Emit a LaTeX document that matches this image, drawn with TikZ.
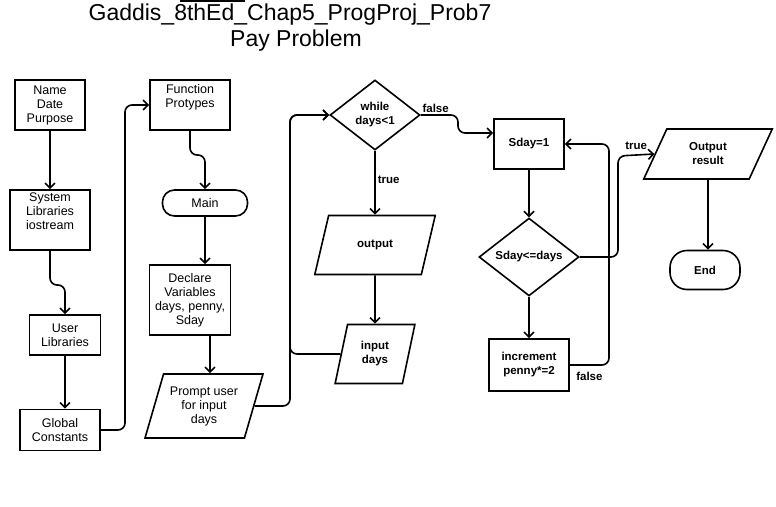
\documentclass[tikz,border=0pt]{standalone}
\usepackage{fontspec}
\setmainfont{Liberation Sans}
\usetikzlibrary{shapes.geometric,arrows.meta}

\tikzset{
  box/.style={draw, line width=1.6pt, rectangle, align=center, inner sep=2pt,
    font=\fontsize{12.5}{14}\selectfont},
  term/.style={draw, line width=1.6pt, rectangle, rounded corners=12pt, align=center},
  io/.style={draw, line width=1.6pt, trapezium, trapezium stretches=true, align=center,
    inner sep=1pt},
  decide/.style={draw, line width=1.6pt, diamond, align=center, inner sep=0pt},
  flow/.style={line width=1.6pt, -{Straight Barb[length=5pt,width=10pt,line width=1.6pt]},
    rounded corners=7pt},
  bold/.style={font=\bfseries\fontsize{11.5}{14}\selectfont},
  lbl/.style={font=\bfseries\fontsize{11.5}{13}\selectfont, inner sep=2pt}
}

\begin{document}
\begin{tikzpicture}[x=1pt, y=-1pt]
        \useasboundingbox (0,0) rectangle (776,506);
        % title
        \draw[line width=1.5pt] (180,1) -- (245,1);
        \node[font=\fontsize{23}{25}\selectfont] (title) at (290,15) {Gaddis\_8thEd\_Chap5\_ProgProj\_Prob7};
        \node[font=\fontsize{23}{25}\selectfont] (subtitle) at (296,41) {Pay Problem};

        % left column
        \node[box, minimum width=70pt, minimum height=50pt] (name) at (50,105) {Name\\Date\\Purpose};
        \node[box, minimum width=80pt, minimum height=60pt, text depth=17pt] (sys) at (50,220) {System\\Libraries\\iostream};
        \node[box, minimum width=71pt, minimum height=40pt] (user) at (65,335) {User\\Libraries};
        \node[box, minimum width=80pt, minimum height=41pt] (global) at (60,430) {Global\\Constants};

        % main column
        \node[box, minimum width=80pt, minimum height=50pt, text depth=18pt] (func) at (190,105) {Function\\Protypes};
        \node[term, box, minimum width=85pt, minimum height=26pt] (main) at (205,203) {Main};
        \node[box, minimum width=81pt, minimum height=70pt] (decl) at (190,300) {Declare\\Variables\\days, penny,\\Sday};
        \node[io, font=\fontsize{12.5}{14}\selectfont, trapezium left angle=68.7, trapezium right angle=111.3,
          minimum width=118pt, minimum height=64pt] (prompt) at (204,406) {Prompt user\\for input\\days};

        % while loop
        \node[decide, bold, minimum width=90pt, minimum height=70pt] (while) at (375,115) {while\\days<1};
        \node[io, bold, trapezium left angle=64.6, trapezium right angle=115.4,
          minimum width=121pt, minimum height=59pt] (output) at (375,245) {output};
        \node[io, bold, trapezium left angle=75.7, trapezium right angle=104.3,
          minimum width=80pt, minimum height=59pt] (input) at (375,354) {input\\days};

        % for loop
        \node[box, bold, minimum width=70pt, minimum height=50pt] (sday) at (529,144) {Sday=1};
        \node[decide, bold, minimum width=100pt, minimum height=73pt] (cond) at (529,257) {Sday<=days};
        \node[box, bold, minimum width=80pt, minimum height=52pt] (incr) at (529,365) {increment\\penny*=2};
        \node[io, bold, trapezium left angle=65.3, trapezium right angle=114.7,
          minimum width=129pt, minimum height=50pt] (outres) at (708,154) {Output\\result};
        \node[term, bold, minimum width=70pt, minimum height=39pt, rounded corners=17pt] (end) at (705,270) {End};

        % connectors
        \draw[flow] (name) -- (sys);
        \draw[flow] (sys.south) -- (50,285) -| (user.north);
        \draw[flow] (user.south) -- (user.south |- global.north);
        \draw[flow] (global.east) -- (125,430) |- (func.west);
        \draw[flow] (func.south) -- (190,155) -| (main.north);
        \draw[flow] (main.south) -- (main.south |- decl.north);
        \draw[flow] ([xshift=20pt]decl.south) -- ([xshift=20pt]decl.south |- prompt.north);
        \draw[flow] (prompt.east) -- (290,406) |- (while.west);
        \draw[flow] (input.west) -- (290,354) |- (while.west);
        \draw[flow] (while) -- node[lbl, right, pos=0.45]{true} (output);
        \draw[flow] (output) -- (input);
        \draw[flow] (while.east) -- node[lbl, above, pos=0.4]{false} (458,115) -- (458,133) -- ([yshift=11pt]sday.west);
        \draw[flow] (sday) -- (cond);
        \draw[flow] (cond) -- (incr);
        \draw[flow] (incr.east) -- node[lbl, below=4pt, pos=0.5]{false} (609,365) |- (sday.east);
        \draw[flow] (cond.east) -- (618,257) -- (618,156) -- node[lbl, above=3pt]{true} (outres.west);
        \draw[flow] (outres.south) -- (outres.south |- end.north);
    \end{tikzpicture}
\end{document}
